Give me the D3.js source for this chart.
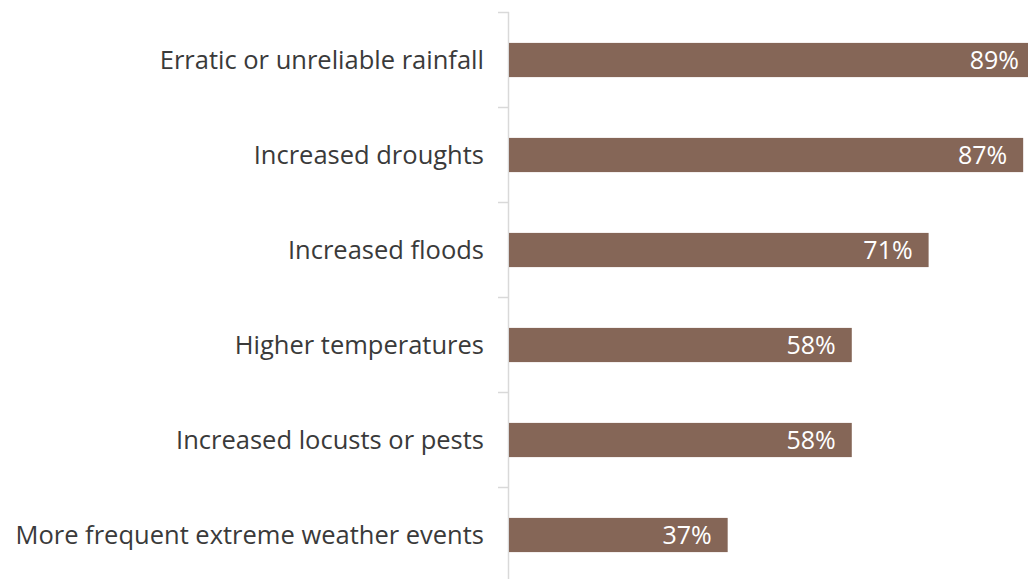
<!DOCTYPE html>
<html>
<head>
<meta charset="utf-8">
<script src="https://cdn.jsdelivr.net/npm/d3@7"></script>
<style>
  body { margin: 0; background: #fff; overflow: hidden; }
  svg { display: block; }
  .cat-label { font-family: "Open Sans", sans-serif; font-size: 25.5px; fill: #3a3a3a; }
  .val-label { font-family: "Open Sans", sans-serif; font-size: 25px; fill: #fff; }
</style>
</head>
<body>
<svg id="chart" width="1028" height="579"></svg>
<script>
// 資料
const categories = [
  "Erratic or unreliable rainfall",
  "Increased droughts",
  "Increased floods",
  "Higher temperatures",
  "Increased locusts or pests",
  "More frequent extreme weather events"
];
const values = [89, 87, 71, 58, 58, 37];

const svg = d3.select("#chart");
const axisX = 509;

// 比例尺
const x = d3.scaleLinear().domain([0, 100]).range([axisX, axisX + 591]);
const y = d3.scaleBand().domain(categories).range([12.5, 582.5]).paddingInner(0.64).paddingOuter(0.32);

// 軸線
svg.append("line")
  .attr("x1", axisX - 0.5).attr("x2", axisX - 0.5)
  .attr("y1", 12).attr("y2", 579)
  .attr("stroke", "#d9d9d9").attr("stroke-width", 1.5);

// 刻度（類別之間）
const step = y.step();
const tickYs = d3.range(categories.length + 1).map((i) => 12.5 + i * step);
svg.selectAll(".tick-mark")
  .data(tickYs)
  .enter()
  .append("line")
  .attr("class", "tick-mark")
  .attr("x1", axisX - 11).attr("x2", axisX)
  .attr("y1", (d) => d).attr("y2", (d) => d)
  .attr("stroke", "#d9d9d9").attr("stroke-width", 1.5);

// 長條
svg.selectAll(".bar")
  .data(values)
  .enter()
  .append("rect")
  .attr("class", "bar")
  .attr("x", x(0))
  .attr("y", (d, i) => y(categories[i]))
  .attr("width", (d) => x(d) - x(0))
  .attr("height", y.bandwidth())
  .attr("fill", "#856657");

// 數值標籤
svg.selectAll(".val-label")
  .data(values)
  .enter()
  .append("text")
  .attr("class", "val-label")
  .attr("x", (d) => x(d) - 16)
  .attr("y", (d, i) => y(categories[i]) + y.bandwidth() / 2)
  .attr("dy", "0.36em")
  .attr("text-anchor", "end")
  .text((d) => d + "%");

// 類別標籤
svg.selectAll(".cat-label")
  .data(categories)
  .enter()
  .append("text")
  .attr("class", "cat-label")
  .attr("x", axisX - 25)
  .attr("y", (d) => y(d) + y.bandwidth() / 2)
  .attr("dy", "0.36em")
  .attr("text-anchor", "end")
  .text((d) => d);
</script>
</body>
</html>
